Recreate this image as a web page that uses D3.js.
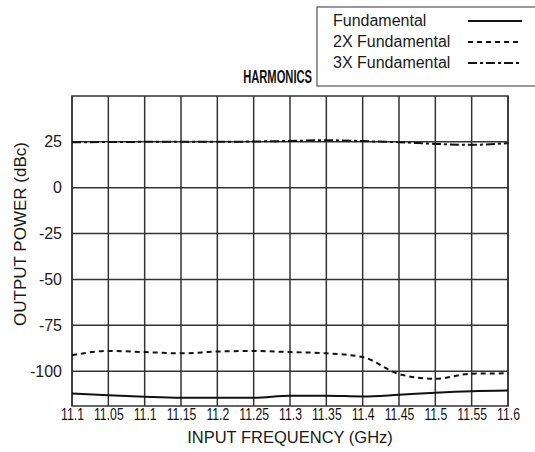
<!DOCTYPE html>
<html>
<head>
<meta charset="utf-8">
<script src="https://cdn.jsdelivr.net/npm/d3@7"></script>
<style>
  html, body { margin: 0; padding: 0; background: #fff; }
  svg { display: block; }
</style>
</head>
<body>
<svg id="chart" width="535" height="452"></svg>
<script>
// ---- data ----
const frequencies = [11.0, 11.05, 11.1, 11.15, 11.2, 11.25, 11.3, 11.35, 11.4, 11.45, 11.5, 11.55, 11.6];
const xTickLabels = ["11.1", "11.05", "11.1", "11.15", "11.2", "11.25", "11.3", "11.35", "11.4", "11.45", "11.5", "11.55", "11.6"];
const yTicks = [25, 0, -25, -50, -75, -100];
const fundamental = [-112.2, -113.2, -114.0, -114.5, -114.5, -114.5, -113.4, -113.4, -113.8, -112.9, -111.8, -111.0, -110.6];
const fundamental2x = [-91.3, -89.0, -89.6, -90.3, -89.3, -89.0, -89.6, -90.3, -92.3, -101.6, -104.2, -101.4, -101.2];
const fundamental3x = [24.8, 24.9, 25.0, 25.0, 25.0, 25.2, 25.5, 25.9, 25.4, 24.8, 23.9, 23.4, 24.3];
const seriesNames = ["Fundamental", "2X Fundamental", "3X Fundamental"];
const chartTitle = "HARMONICS";
const xTitle = "INPUT FREQUENCY (GHz)";
const yTitle = "OUTPUT POWER (dBc)";

// ---- layout ----
const W = 535, H = 452;
const m = { left: 72, right: 27, top: 96, bottom: 46 };
const svg = d3.select("#chart");

const x = d3.scaleLinear().domain([11.0, 11.6]).range([m.left, W - m.right]);
const y = d3.scaleLinear().domain([-119, 50]).range([H - m.bottom, m.top]);

const gridColor = "#333";
const font = "'Liberation Sans', Arial, sans-serif";

function condense(sel, factor) {
  sel.each(function () {
    const w = this.getComputedTextLength();
    d3.select(this).attr("textLength", w * factor).attr("lengthAdjust", "spacingAndGlyphs");
  });
}

// gridlines
svg.append("g").selectAll("line").data(frequencies).join("line")
  .attr("x1", d => x(d)).attr("x2", d => x(d))
  .attr("y1", m.top).attr("y2", H - m.bottom)
  .attr("stroke", gridColor).attr("stroke-width", 1.5);
svg.append("g").selectAll("line").data(yTicks).join("line")
  .attr("x1", m.left).attr("x2", W - m.right)
  .attr("y1", d => y(d)).attr("y2", d => y(d))
  .attr("stroke", gridColor).attr("stroke-width", 1.5);
svg.append("rect")
  .attr("x", m.left).attr("y", m.top)
  .attr("width", W - m.left - m.right).attr("height", H - m.top - m.bottom)
  .attr("fill", "none").attr("stroke", gridColor).attr("stroke-width", 1.5);

// axes (labels only)
const xAxis = d3.axisBottom(x).tickValues(frequencies)
  .tickFormat((d, i) => xTickLabels[i]).tickSize(0).tickPadding(2);
const gx = svg.append("g").attr("transform", `translate(0,${H - m.bottom})`).call(xAxis);
gx.select(".domain").remove();
gx.selectAll("text").attr("font-family", font).attr("font-size", 17).attr("fill", "#111")
  .call(condense, 0.72);

const yAxis = d3.axisLeft(y).tickValues(yTicks).tickFormat(d => String(d)).tickSize(0).tickPadding(10);
const gy = svg.append("g").attr("transform", `translate(${m.left},0)`).call(yAxis);
gy.select(".domain").remove();
gy.selectAll("text").attr("font-family", font).attr("font-size", 16).attr("fill", "#1a1a1a");

// titles
svg.append("text").attr("x", (m.left + W - m.right) / 2).attr("y", 443)
  .attr("text-anchor", "middle").attr("font-family", font).attr("font-size", 16.5).attr("fill", "#1a1a1a")
  .text(xTitle);
svg.append("text").attr("transform", `translate(26,234) rotate(-90)`)
  .attr("text-anchor", "middle").attr("font-family", font).attr("font-size", 17).attr("fill", "#1a1a1a")
  .text(yTitle);
svg.append("text").attr("x", 312).attr("y", 83)
  .attr("text-anchor", "end").attr("font-family", font).attr("font-weight", "bold")
  .attr("font-size", 18).attr("fill", "#111").text(chartTitle)
  .call(condense, 0.62);

// series
const line = d3.line().x((d, i) => x(frequencies[i])).y(d => y(d)).curve(d3.curveMonotoneX);
const styles = [
  { data: fundamental, dash: null },
  { data: fundamental2x, dash: "5,4" },
  { data: fundamental3x, dash: "9,3,3,3" }
];
svg.append("g").selectAll("path").data(styles).join("path")
  .attr("d", s => line(s.data))
  .attr("fill", "none").attr("stroke", "#111").attr("stroke-width", 2)
  .attr("stroke-dasharray", s => s.dash);

// legend
const lg = svg.append("g");
lg.append("rect").attr("x", 317).attr("y", 7).attr("width", 240).attr("height", 79)
  .attr("fill", "#fff").attr("stroke", "#555").attr("stroke-width", 1.2);
const rows = lg.selectAll("g.row").data(styles).join("g").attr("class", "row")
  .attr("transform", (d, i) => `translate(0,${26 + i * 21})`);
rows.append("text").attr("x", 333).attr("y", 0)
  .attr("font-family", font).attr("font-size", 16).attr("fill", "#1a1a1a")
  .text((d, i) => seriesNames[i]);
rows.append("line").attr("x1", 468).attr("x2", 522).attr("y1", -5).attr("y2", -5)
  .attr("stroke", "#111").attr("stroke-width", 2)
  .attr("stroke-dasharray", s => s.dash);
</script>
</body>
</html>
